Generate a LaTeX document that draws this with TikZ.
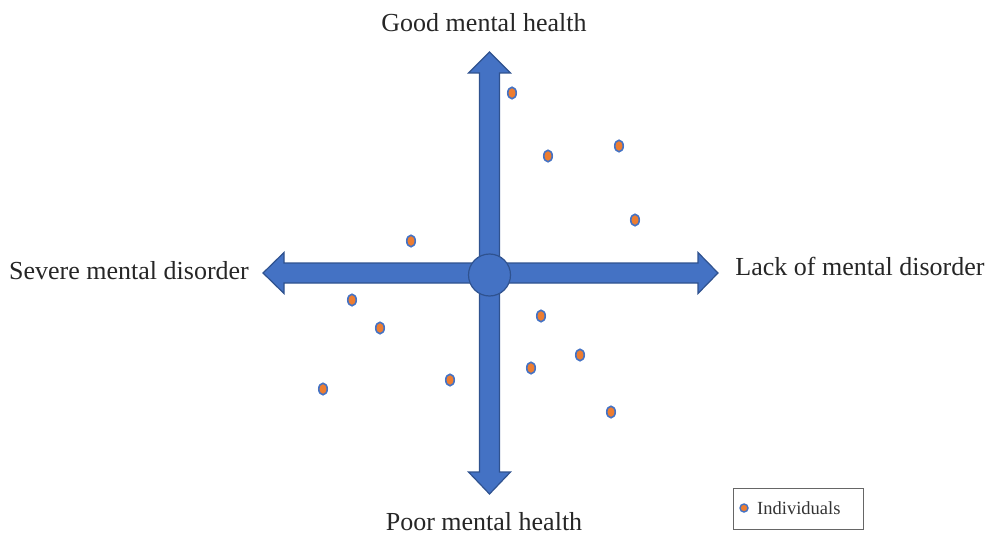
\documentclass[tikz,border=0pt]{standalone}
\usepackage{fontspec}
\setmainfont{Liberation Serif}
\usetikzlibrary{shapes.geometric}
\definecolor{axisfill}{HTML}{4472C4}
\definecolor{axisline}{HTML}{2F528F}
\definecolor{dotfill}{HTML}{ED7D31}
\tikzset{
  axisshape/.style={fill=axisfill, draw=axisline, line width=1.2pt, line join=miter},
  person/.style={ellipse, fill=dotfill, draw=axisfill, line width=1.6pt, minimum width=8.5pt, minimum height=11.5pt, inner sep=0pt},
  axislabel/.style={font=\fontsize{26}{30}\selectfont, text=black!85, inner sep=0pt},
}
\begin{document}
\begin{tikzpicture}[x=1pt,y=-1pt]
\useasboundingbox (0,0) rectangle (985,535);
% horizontal double arrow
\draw[axisshape] (263,273) -- (284,252.5) -- (284,263) -- (698,263) -- (698,252.5) -- (718,273)
  -- (698,293.5) -- (698,283) -- (284,283) -- (284,293.5) -- cycle;
% vertical double arrow
\draw[axisshape] (489.5,52) -- (510.5,73) -- (499.5,73) -- (499.5,472) -- (510.5,472) -- (489.5,494)
  -- (468.5,472) -- (479.5,472) -- (479.5,73) -- (468.5,73) -- cycle;
% centre circle
\node[circle, fill=axisfill, draw=axisline, line width=1.2pt, minimum size=42pt, inner sep=0pt] (centre) at (489.5,275) {};
% labels
\node[axislabel] (good) at (484,23) {Good mental health};
\node[axislabel] (poor) at (484,522) {Poor mental health};
\node[axislabel] (severe) at (129,271) {Severe mental disorder};
\node[axislabel] (lack) at (860,266) {Lack of mental disorder};
% individuals
\node[person] (p1) at (512,93) {};
\node[person] (p2) at (548,156) {};
\node[person] (p3) at (619,146) {};
\node[person] (p4) at (635,220) {};
\node[person] (p5) at (411,241) {};
\node[person] (p6) at (352,300) {};
\node[person] (p7) at (380,328) {};
\node[person] (p8) at (541,316) {};
\node[person] (p9) at (580,355) {};
\node[person] (p10) at (531,368) {};
\node[person] (p11) at (450,380) {};
\node[person] (p12) at (323,389) {};
\node[person] (p13) at (611,412) {};
% legend
\node[draw=black!60, line width=0.8pt, minimum width=130pt, minimum height=41pt, inner sep=0pt] (legend) at (798,508.5) {};
\node[circle, fill=dotfill, draw=axisfill, line width=1.4pt, minimum size=8pt, inner sep=0pt] (legdot) at (744,508) {};
\node[anchor=west, font=\fontsize{18.5}{21}\selectfont, text=black!80, inner sep=0pt] (legtext) at (757,508) {Individuals};
\end{tikzpicture}
\end{document}
